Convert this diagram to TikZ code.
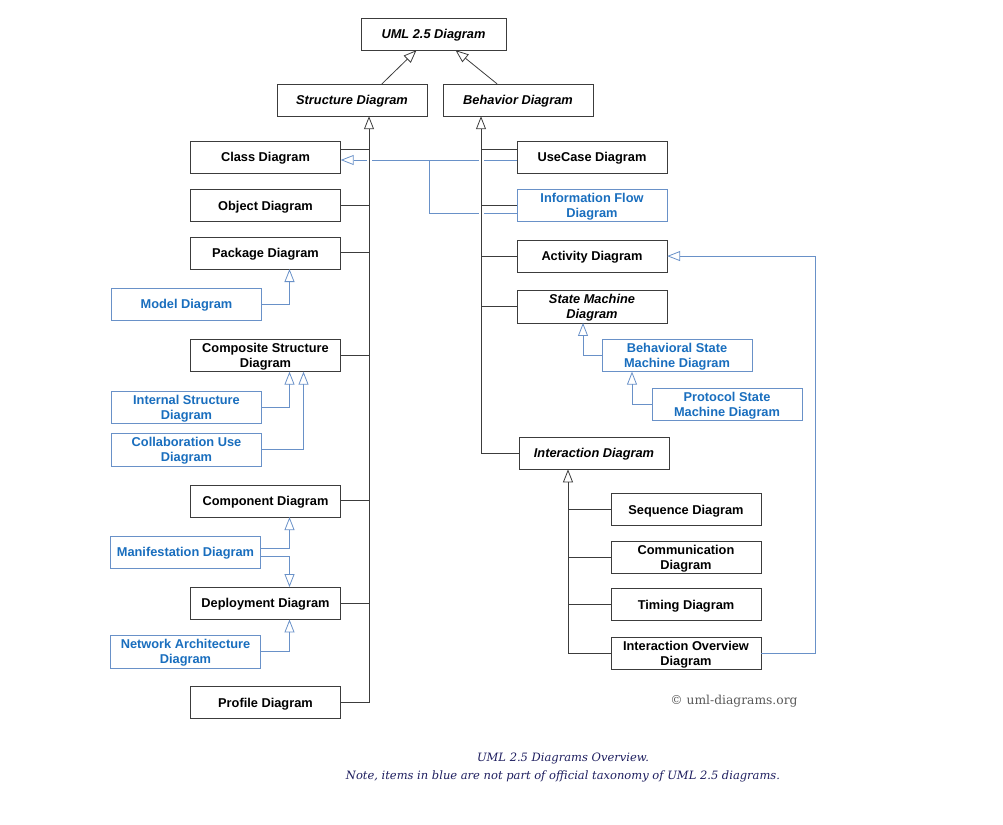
\documentclass[tikz,border=0pt]{standalone}
\usepackage{fontspec}
\setmainfont{Liberation Sans}
\newfontfamily\notefont{DejaVu Serif}
\usetikzlibrary{arrows.meta}
\usetikzlibrary{positioning}

\definecolor{linegray}{RGB}{60,60,60}
\definecolor{extblue}{RGB}{25,110,190}
\definecolor{extline}{RGB}{105,145,200}
\definecolor{notenavy}{RGB}{30,30,95}

\begin{document}
\begin{tikzpicture}[x=1pt, y=-1pt, every node/.style={rectangle, draw=linegray, fill=white, align=center, minimum width=150pt, minimum height=32pt, inner ysep=4pt, text depth=0pt, font=\fontsize{12.8}{15}\selectfont\bfseries}, node distance=16pt,
  abstract/.style={font=\fontsize{12.8}{15}\selectfont\bfseries\itshape},
  ext/.style={draw=extline, text=extblue},
  plaintext/.style={draw=none, fill=none, minimum width=0pt, minimum height=0pt, inner sep=0pt},
  tree/.style={draw=linegray, line width=0.8pt},
  gen/.style={tree, -{Triangle[open, length=13pt, width=10pt]}},
  extgen/.style={draw=extline, line width=0.8pt, -{Triangle[open, length=13pt, width=10pt]}},
  halo/.style={preaction={draw=white, line width=5pt, arrows=-, shorten <=1pt, shorten >=13pt}}]

\useasboundingbox (0,0) rectangle (1003,824);

\node[abstract, minimum width=145pt] (uml) at (433.5,34) {UML 2.5 Diagram};
\node[abstract] (structure) at (352,100) {Structure Diagram};
\node[abstract] (behavior) at (518,100) {Behavior Diagram};

% structure diagrams
\node (class) at (265.5,157) {Class Diagram};
\node[below=16pt of class] (object) {Object Diagram};
\node[below=15pt of object] (package) {Package Diagram};
\node[ext, below=19pt of package, xshift=-79pt] (model) {Model Diagram};
\node[below=70pt of package] (composite) {Composite Structure\\Diagram};
\node[ext, below=19pt of composite, xshift=-79pt] (internal) {Internal Structure\\Diagram};
\node[ext, below=10pt of internal] (collaboration) {Collaboration Use\\Diagram};
\node[below=113pt of composite] (component) {Component Diagram};
\node[ext, below=19pt of component, xshift=-80pt] (manifestation) {Manifestation Diagram};
\node[below=70pt of component] (deployment) {Deployment Diagram};
\node[ext, below=16pt of deployment, xshift=-80pt] (network) {Network Architecture\\Diagram};
\node[below=67pt of deployment] (profile) {Profile Diagram};

% behavior diagrams
\node (usecase) at (592,157) {UseCase Diagram};
\node[ext, below=16pt of usecase] (infoflow) {Information Flow\\Diagram};
\node[below=18pt of infoflow] (activity) {Activity Diagram};
\node[abstract, below=18pt of activity] (statemachine) {State Machine\\Diagram};
\node[ext, below=16pt of statemachine, xshift=85pt] (behavioral) {Behavioral State\\Machine Diagram};
\node[ext, below=16pt of behavioral, xshift=50pt] (protocol) {Protocol State\\Machine Diagram};
\node[abstract, below=114pt of statemachine, xshift=2pt] (interaction) {Interaction Diagram};
\node[below=24pt of interaction, xshift=92pt] (sequence) {Sequence Diagram};
\node[below=15pt of sequence] (communication) {Communication\\Diagram};
\node[below=15pt of communication] (timing) {Timing Diagram};
\node[below=16pt of timing] (overview) {Interaction Overview\\Diagram};

\node[plaintext, font=\notefont\fontsize{12.3}{15}\selectfont, text=black!65] (copyright) at (734,700) {© uml-diagrams.org};
\node[plaintext, font=\notefont\itshape\fontsize{11.5}{18}\selectfont, text=notenavy] (caption) at (563,766) {UML 2.5 Diagrams Overview.\\Note, items in blue are not part of official taxonomy of UML 2.5 diagrams.};

\draw[gen] ([xshift=30pt]structure.north) -- ([xshift=-17pt]uml.south);
\draw[gen] ([xshift=-21pt]behavior.north) -- ([xshift=22pt]uml.south);

% blue links
\coordinate (classlink) at ([yshift=-3pt]class.east);
\draw[extgen] ([yshift=-3pt]usecase.west) -- (classlink);
\draw[extline, line width=0.8pt] ([yshift=-7.5pt]infoflow.west) -| ([xshift=89pt]classlink);
\draw[extgen] (model.east) -| ([xshift=24pt]package.south);
\draw[extgen] (internal.east) -| ([xshift=24pt]composite.south);
\draw[extgen] (collaboration.east) -| ([xshift=38pt]composite.south);
\draw[extgen] ([yshift=4pt]manifestation.east) -| ([xshift=24pt]component.south);
\draw[extgen] ([yshift=-4pt]manifestation.east) -| ([xshift=24pt]deployment.north);
\draw[extgen] (network.east) -| ([xshift=24pt]deployment.south);
\draw[extgen] (behavioral.west) -| ([xshift=-9pt]statemachine.south);
\draw[extgen] (protocol.west) -| ([xshift=-45pt]behavioral.south);
\draw[extgen] (overview.east) -- ++(54pt,0) |- (activity.east);

% trunks
\coordinate (strunk) at ([xshift=17pt]structure.south);
\coordinate (btrunk) at ([xshift=-37pt]behavior.south);
\coordinate (itrunk) at ([xshift=-26pt]interaction.south);
\draw[gen, halo] (profile.east) -| (strunk);
\draw[gen, halo] (interaction.west) -| (btrunk);
\draw[gen] (overview.west) -| (itrunk);

\coordinate (classjoin) at ([yshift=8pt]class.east);
\coordinate (usecasejoin) at ([yshift=8pt]usecase.west);
\draw[tree] (classjoin) -- (classjoin -| strunk);
\draw[tree] (usecasejoin) -- (usecasejoin -| btrunk);
\foreach \n in {object, package, composite, component, deployment}
  \draw[tree] (\n.east) -- (\n.east -| strunk);
\foreach \n in {infoflow, activity, statemachine}
  \draw[tree] (\n.west) -- (\n.west -| btrunk);
\foreach \n in {sequence, communication, timing}
  \draw[tree] (\n.west) -- (\n.west -| itrunk);

\end{tikzpicture}
\end{document}
